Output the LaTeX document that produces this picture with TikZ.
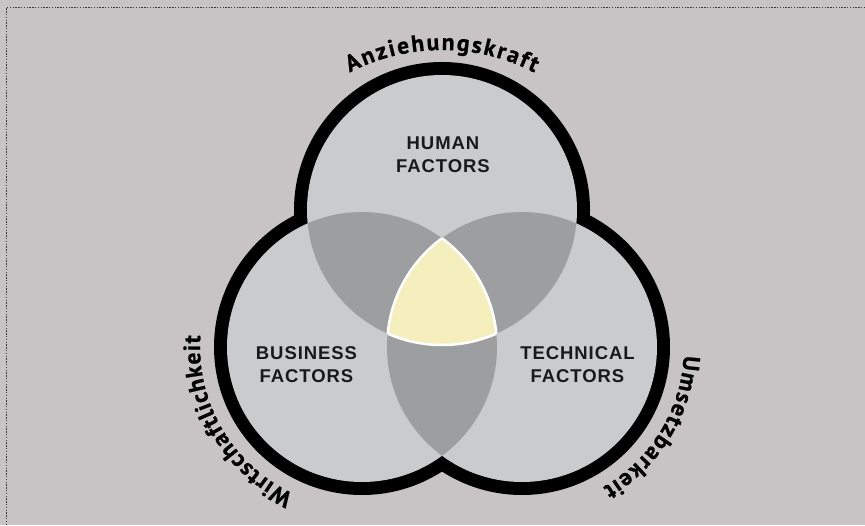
\documentclass[tikz,border=0pt]{standalone}
\usepackage{fontspec}
\usepackage{tikz}
\usetikzlibrary{decorations.text}
\newfontfamily\factorfont[LetterSpace=5]{Liberation Sans}
\newfontfamily\arcfont[BoldFeatures={FakeBold=0.8}]{PT Sans}
\definecolor{paper}{HTML}{C8C4C5}
\definecolor{disc}{HTML}{CACBCD}
\definecolor{overlap}{HTML}{9D9EA0}
\definecolor{core}{HTML}{F4EFBD}
\definecolor{frame}{HTML}{3A3A3A}
\tikzset{
  factor/.style={font=\factorfont\bfseries\fontsize{18.5}{23}\selectfont, align=center,
                 text=black!90, inner sep=0pt},
  rim/.style={fill=black},
  edge/.style={draw=white, line width=2.5pt},
  arclabel/.style={decorate, decoration={text along path, text align={fit to path},
                   text={|\arcfont\bfseries\fontsize{23.5}{28}\selectfont|#1}}}
}

\begin{document}
\begin{tikzpicture}[x=1pt,y=1pt]
  \useasboundingbox (0,0) rectangle (865,525);
  \fill[paper] (0,0) rectangle (865,525);
  \draw[frame, line width=1.2pt, dash pattern=on 1.4pt off 1.4pt] (6.5,0) -- (6.5,517.5) -- (865,517.5);

  \coordinate (hum) at (442,315);
  \coordinate (bus) at (362,178);
  \coordinate (tec) at (522,178);

  % black rim, then the discs on top
  \foreach \c in {hum,bus,tec} \fill[rim] (\c) circle (148);
  \foreach \c in {hum,bus,tec} \fill[disc] (\c) circle (135);

  % pairwise overlaps
  \begin{scope}
    \clip (hum) circle (135);
    \fill[overlap] (bus) circle (135) (tec) circle (135);
  \end{scope}
  \begin{scope}
    \clip (bus) circle (135);
    \fill[overlap] (tec) circle (135);
  \end{scope}

  % centre where all three meet
  \begin{scope}
    \clip (hum) circle (135);
    \clip (bus) circle (135);
    \fill[core] (tec) circle (135);
  \end{scope}
  \foreach \a/\b/\c in {hum/bus/tec, bus/tec/hum, tec/hum/bus} {
    \begin{scope}
      \clip (\b) circle (135);
      \clip (\c) circle (135);
      \draw[edge] (\a) circle (135);
    \end{scope}
  }

  \node[factor] (human) at (443,370.5) {HUMAN\\FACTORS};
  \node[factor] (business) at (306.5,160.5) {BUSINESS\\FACTORS};
  \node[factor] (technical) at (577.5,160.5) {TECHNICAL\\FACTORS};

  % curved captions outside the rim
  \path[arclabel=Anziehungskraft] (442,275) ++(117.5:200) arc[start angle=117.5, end angle=62.5, radius=200];
  \path[arclabel=Wirtschaftlichkeit] (bus) ++(245:162) arc[start angle=245, end angle=176, radius=162];
  \path[arclabel=Umsetzbarkeit] (tec) ++(-3:162) arc[start angle=-3, end angle=-60, radius=162];
\end{tikzpicture}
\end{document}
